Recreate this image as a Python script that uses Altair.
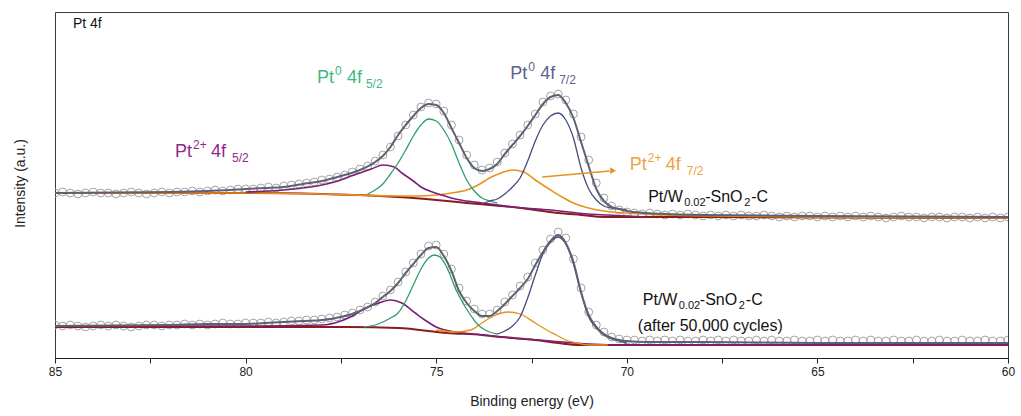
import altair as alt
import numpy as np
import pandas as pd

FONT = "Liberation Sans"

# ---------------- data (binding energy in eV, intensity in arbitrary units) ----------------
circ_e = np.round(np.linspace(85.0, 60.0, 126), 2)

top_circ = [
    165, 166, 165, 164, 165, 166, 165, 165, 164, 165, 166, 165, 164, 165, 166, 165,
    166, 166, 167, 166, 167, 168, 167, 168, 169, 169,
    169, 170, 171, 170, 172, 173, 174, 175, 176, 178,
    179, 181, 183, 186, 189, 192, 197, 203, 211, 222,
    233, 243, 251, 255, 254, 247, 233, 218, 203, 193,
    188, 190, 196, 205, 214, 223, 233, 244, 256, 262,
    264, 258, 244, 221, 198, 175, 160, 152, 148, 146,
    145, 144, 145, 144, 143, 144, 143, 144, 143, 142,
    143, 142, 143, 142, 143, 142, 142, 143, 142, 141,
    142, 141, 142, 142, 141, 142, 141, 142, 141, 142,
    141, 142, 141, 140, 141, 142, 141, 141, 140, 141,
    141, 140, 141, 141, 140, 141, 140, 141, 140, 141]

bot_circ = [
    33, 32, 33, 32, 31, 32, 33, 32, 33, 32, 31, 32, 33, 33, 32, 33,
    33, 34, 33, 34, 33, 34, 35, 34, 34, 35,
    35, 35, 36, 35, 36, 37, 37, 38, 38, 39,
    40, 41, 43, 45, 48, 51, 56, 62, 68, 76,
    86, 95, 104, 112, 113, 104, 89, 70, 57, 49,
    44, 44, 48, 56, 63, 72, 81, 95, 108, 119,
    126, 120, 99, 70, 46, 33, 26, 21, 19, 18,
    18, 17, 18, 17, 18, 17, 18, 17, 17, 18,
    17, 18, 17, 18, 17, 17, 18, 17, 18, 17,
    17, 18, 17, 17, 18, 17, 18, 17, 17, 18,
    17, 18, 17, 17, 18, 17, 17, 18, 17, 17,
    18, 17, 17, 18, 17, 17, 18, 17, 17, 18]

env_e = [85, 82, 81, 80, 79.5, 79, 78.5, 78, 77.5, 77,
         76.6, 76.4, 76.2, 76.0, 75.8, 75.6, 75.4, 75.2, 75.0, 74.8,
         74.6, 74.4, 74.2, 74.0, 73.8, 73.6, 73.4, 73.2, 73.0, 72.8,
         72.6, 72.4, 72.2, 72.0, 71.8, 71.6, 71.4, 71.2, 71.0, 70.8,
         70.6, 70.4, 70.2, 70.0, 69.5, 69, 68, 65, 60]
top_env = [165, 166, 167, 169, 170, 171, 174, 177, 182, 188,
           196, 202, 211, 223, 233, 242, 250, 254, 253, 245,
           230, 215, 200, 190, 187, 189, 194, 204, 213, 222,
           232, 243, 254, 261, 263, 255, 240, 216, 192, 169,
           157, 151, 149, 147, 145, 144, 143, 142, 141]
bot_env = [32, 33, 34, 34, 35, 36, 37, 38, 41, 47,
           55, 61, 67, 75, 85, 94, 103, 110, 111, 102,
           87, 67, 55, 47, 42, 42, 47, 54, 62, 70,
           79, 93, 106, 117, 123, 115, 96, 66, 43, 31,
           24, 20, 18, 17, 16, 16, 16, 15, 15]

# top spectrum components
top_bg_e = [85, 80, 78, 77, 76, 75, 74.2, 73.6, 73.0, 72.4, 71.8, 71.2, 70.6, 70.0, 60]
top_bg_i = [165, 165, 164, 163, 161, 158, 155, 153, 151, 148, 145, 143, 141, 141, 140]
top_p2_72_e = [85, 80, 78, 76, 75.5, 75.0, 74.6, 74.2, 73.9, 73.6, 73.3, 73.0, 72.7, 72.4,
               72.0, 71.7, 71.4, 71.0, 70.4, 70.0, 69.0, 65, 60]
top_p2_72_i = [165, 165, 164, 162, 162, 163, 165, 168, 173, 180, 185, 188, 186, 178,
               168, 161, 155, 150, 146, 145, 143, 141, 140]
top_p2_52_e = [80, 79, 78.5, 78.0, 77.5, 77.3, 77.0, 76.7, 76.4, 76.1, 75.9, 75.6, 75.4,
               75.1, 74.85, 74.5, 74.2, 73.8, 73.0, 72.0, 71.0, 70.5, 70.0, 69.5]
top_p2_52_i = [166, 168, 170, 173, 178, 181, 185, 189, 193, 191, 185, 177, 171,
               166, 163, 159, 157, 155, 151, 148, 144, 143, 142, 141]
top_p0_52_e = [76.8, 76.6, 76.4, 76.2, 76.0, 75.8, 75.6, 75.4, 75.2, 75.0, 74.8, 74.6,
               74.4, 74.2, 74.0, 73.8, 73.6, 73.4]
top_p0_52_i = [164, 168, 174, 184, 195, 208, 222, 233, 239, 237, 228, 214,
               195, 178, 167, 160, 157, 155]
top_p0_72_e = [73.8, 73.6, 73.4, 73.2, 73.0, 72.8, 72.6, 72.4, 72.2, 72.0, 71.8, 71.6,
               71.4, 71.2, 71.0, 70.8, 70.6, 70.4, 70.2, 70.0]
top_p0_72_i = [154, 157, 159, 164, 171, 180, 197, 217, 233, 242, 245, 238,
               220, 190, 169, 158, 152, 150, 149, 148]

# bottom spectrum components
bot_bg_e = [85, 80, 77.3, 76, 74.7, 73.8, 73.3, 72.4, 71.8, 71.25, 70.5, 60]
bot_bg_i = [31, 31, 31, 30, 25, 23, 21, 18, 15, 13, 13, 13]
bot_p2_52_e = [85, 80, 78, 77.5, 77.2, 76.85, 76.5, 76.2, 75.9, 75.55, 75.3, 75.0, 74.5,
               74.0, 73.5, 73.0, 72.0, 71.0, 70.0, 60]
bot_p2_52_i = [32, 32, 33, 37, 42, 50, 55, 58, 55, 45, 38, 31, 26,
               24, 22, 20, 17, 14, 13, 13]
bot_p0_52_e = [76.9, 76.6, 76.4, 76.2, 76.0, 75.8, 75.6, 75.4, 75.2, 75.05, 74.9, 74.7,
               74.5, 74.3, 74.1, 73.95, 73.8, 73.6, 73.4]
bot_p0_52_i = [31, 33, 36, 40, 45, 57, 73, 89, 100, 103, 101, 89,
               70, 55, 43, 35, 30, 26, 24]
bot_p2_72_e = [75.0, 74.5, 74.1, 73.8, 73.5, 73.1, 72.8, 72.4, 72.1, 71.85, 71.6, 71.3, 71.0, 70.5]
bot_p2_72_i = [28, 26, 28, 35, 42, 46, 44, 35, 28, 23, 18, 15, 13, 13]
bot_p0_72_e = [73.4, 73.2, 73.0, 72.8, 72.6, 72.4, 72.2, 72.0, 71.8, 71.6, 71.4, 71.2,
               71.0, 70.8, 70.6, 70.4, 70.2, 70.0]
bot_p0_72_i = [24, 27, 32, 41, 60, 83, 104, 116, 121, 114, 94, 65,
               41, 30, 23, 19, 17, 15]

tick_values = [85, 82.5, 80, 77.5, 75, 72.5, 70, 67.5, 65, 62.5, 60]

# ---------------- styling ----------------
C_GREEN, C_GREEN_T = "#2f9e6e", "#3dbb80"
C_NAVY, C_NAVY_T = "#474b7e", "#5c618f"
C_PURP, C_PURP_T = "#7a1f7a", "#8c2a8c"
C_ORNG, C_ORNG_T = "#e8921e", "#f0a243"
C_BG = "#8b1c1c"
C_ENV = "#5d6272"
C_CIRC = "#a2a2a2"

xscale = alt.Scale(domain=[85, 60], nice=False, zero=False)
yscale = alt.Scale(domain=[0, 346], nice=False, zero=False)
xaxis = alt.Axis(title="Binding energy (eV)", values=tick_values,
                 labelExpr="datum.value % 5 == 0 ? datum.label : ''",
                 grid=False, tickSize=5, tickColor="#222", domainColor="#222",
                 labelFontSize=12, titleFontSize=14, titleFontWeight="normal",
                 labelPadding=3, titlePadding=17, labelColor="#222", titleColor="#222",
                 labelFont=FONT, titleFont=FONT, labelFlush=False)
yaxis = alt.Axis(title="Intensity (a.u.)", labels=False, ticks=False, grid=False, domain=False,
                 titleX=-35, titleY=171, titleAlign="center", titleBaseline="middle",
                 titleFontSize=14, titleFontWeight="normal", titleColor="#222", titleFont=FONT)
X = alt.X("E:Q", scale=xscale, axis=xaxis)
Y = alt.Y("I:Q", scale=yscale, axis=yaxis)


def line(e, i, color, width):
    df = pd.DataFrame({"E": e, "I": i})
    return alt.Chart(df).mark_line(color=color, strokeWidth=width, interpolate="monotone",
                                   clip=True).encode(x=X, y=Y)


def circles(e, i):
    df = pd.DataFrame({"E": e, "I": i})
    return alt.Chart(df).mark_point(shape="circle", filled=False, size=62, strokeWidth=1,
                                    color=C_CIRC, opacity=1, clip=True).encode(x=X, y=Y)


def txt(e, i, s, color, size, dx=0, dy=0):
    df = pd.DataFrame({"E": [e], "I": [i], "t": [s]})
    return alt.Chart(df).mark_text(align="left", baseline="alphabetic", dx=dx, dy=dy,
                                   fontSize=size, color=color, font=FONT).encode(
        x=X, y=Y, text="t:N")


layers = [
    circles(circ_e, top_circ),
    circles(circ_e, bot_circ),
    line(top_bg_e, top_bg_i, C_BG, 2),
    line(bot_bg_e, bot_bg_i, C_BG, 2),
    line(top_p2_72_e, top_p2_72_i, C_ORNG, 1.6),
    line(top_p2_52_e, top_p2_52_i, C_PURP, 1.6),
    line(top_p0_52_e, top_p0_52_i, C_GREEN, 1.3),
    line(top_p0_72_e, top_p0_72_i, C_NAVY, 1.3),
    line(bot_p2_52_e, bot_p2_52_i, C_PURP, 1.6),
    line(bot_p2_72_e, bot_p2_72_i, C_ORNG, 1.3),
    line(bot_p0_52_e, bot_p0_52_i, C_GREEN, 1.3),
    line(bot_p0_72_e, bot_p0_72_i, C_NAVY, 1.3),
    line(env_e, top_env, C_ENV, 2),
    line(env_e, bot_env, C_ENV, 2),
]

# arrow pointing to the Pt2+ 4f7/2 label
arrow_df = pd.DataFrame({"E": [72.22], "I": [181], "E2": [70.45], "I2": [187]})
layers.append(alt.Chart(arrow_df).mark_rule(color=C_ORNG, strokeWidth=1.6).encode(
    x=X, y=Y, x2="E2:Q", y2="I2:Q"))
head_df = pd.DataFrame({"E": [70.36], "I": [187.3]})
layers.append(alt.Chart(head_df).mark_point(shape="triangle-right", filled=True, size=45,
                                            color=C_ORNG, opacity=1).encode(x=X, y=Y))

# annotations
layers += [
    txt(84.53, 330, "Pt 4f", "#111", 14),
    # Pt0 4f5/2
    txt(78.13, 275, "Pt", C_GREEN_T, 18),
    txt(78.13, 275, "0", C_GREEN_T, 12, dx=18, dy=-8),
    txt(78.13, 275, "4f", C_GREEN_T, 18, dx=30),
    txt(78.13, 275, "5/2", C_GREEN_T, 12, dx=49, dy=5),
    # Pt0 4f7/2
    txt(73.06, 279, "Pt", C_NAVY_T, 18),
    txt(73.06, 279, "0", C_NAVY_T, 12, dx=18, dy=-8),
    txt(73.06, 279, "4f", C_NAVY_T, 18, dx=30),
    txt(73.06, 279, "7/2", C_NAVY_T, 12, dx=49, dy=5),
    # Pt2+ 4f5/2
    txt(81.85, 201, "Pt", C_PURP_T, 18),
    txt(81.85, 201, "2+", C_PURP_T, 12, dx=18, dy=-8),
    txt(81.85, 201, "4f", C_PURP_T, 18, dx=36),
    txt(81.85, 201, "5/2", C_PURP_T, 12, dx=57, dy=5),
    # Pt2+ 4f7/2
    txt(69.92, 188, "Pt", C_ORNG_T, 18),
    txt(69.92, 188, "2+", C_ORNG_T, 12, dx=18, dy=-8),
    txt(69.92, 188, "4f", C_ORNG_T, 18, dx=36),
    txt(69.92, 188, "7/2", C_ORNG_T, 12, dx=57, dy=5),
    # sample label (top)
    txt(69.44, 156, "Pt/W", "#111", 16),
    txt(69.44, 156, "0.02", "#111", 11, dx=36, dy=4),
    txt(69.44, 156, "-SnO", "#111", 16, dx=57),
    txt(69.44, 156, "2", "#111", 11, dx=96, dy=4),
    txt(69.44, 156, "-C", "#111", 16, dx=103),
    # sample label (bottom)
    txt(69.58, 53, "Pt/W", "#111", 16),
    txt(69.58, 53, "0.02", "#111", 11, dx=36, dy=4),
    txt(69.58, 53, "-SnO", "#111", 16, dx=57),
    txt(69.58, 53, "2", "#111", 11, dx=96, dy=4),
    txt(69.58, 53, "-C", "#111", 16, dx=103),
    txt(69.71, 27, "(after 50,000 cycles)", "#111", 16),
]

chart = alt.layer(*layers).properties(
    width=953, height=346,
    autosize=alt.AutoSizeParams(type="none"),
    padding={"left": 55, "top": 12, "right": 13, "bottom": 58},
).configure(font=FONT).configure_view(stroke="#3a3a3a", strokeWidth=1)

chart.save("out.html", embed_options={"renderer": "svg", "actions": False})
